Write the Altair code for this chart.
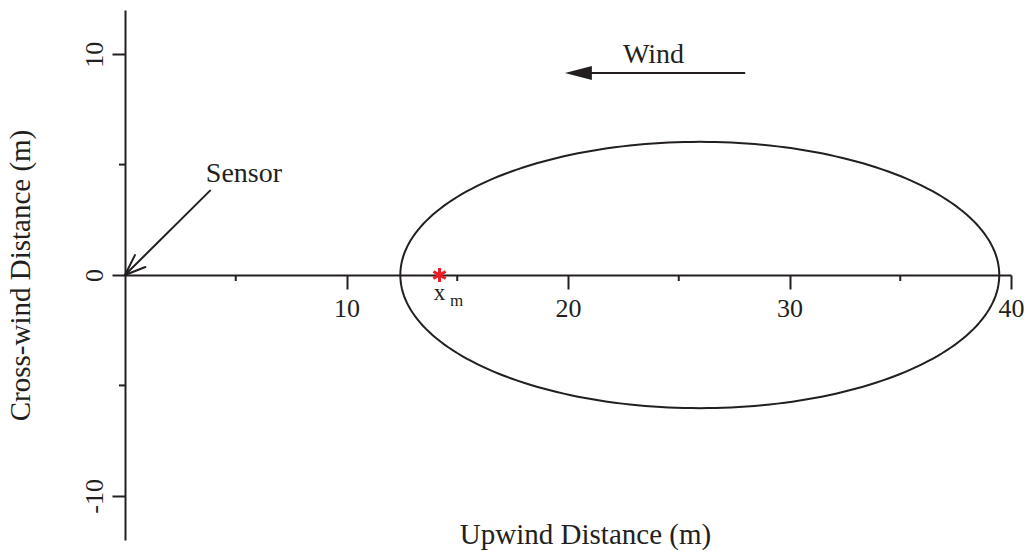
import altair as alt
import pandas as pd
import numpy as np

FONT = "Liberation Serif"
INK = "#231f20"
RED = "#ed1c24"

# ---- axes ----
x_domain = [0, 40]
y_domain = [-12, 12]
x_major = [10, 20, 30, 40]
x_minor = [5, 15, 25, 35]
y_major = [-10, 0, 10]
y_minor = [-5, 5]
x_title = "Upwind Distance (m)"
y_title = "Cross-wind Distance (m)"

# ---- footprint ellipse ----
ellipse_cx = 25.95
ellipse_cy = 0.0
ellipse_a = 13.52
ellipse_b = 6.03

# ---- peak location x_m ----
xm_x = [14.2]
xm_y = [0.0]

# ---- Sensor arrow (shaft + two open head arms) ----
sensor_x = [3.84, 0.0, 0.0]
sensor_y = [3.82, 0.0, 0.0]
sensor_x2 = [0.0, 0.45, 0.92]
sensor_y2 = [0.0, 0.90, 0.36]
sensor_label = ["Sensor"]
sensor_label_x = [5.37]
sensor_label_y = [4.23]

# ---- Wind arrow ----
wind_shaft_x = [20.5]
wind_shaft_x2 = [28.0]
wind_shaft_y = [9.15]
wind_tip_x = [19.86]
wind_label = ["Wind"]
wind_label_x = [23.86]
wind_label_y = [9.59]

W, H = 886, 530

xs = alt.Scale(domain=x_domain, nice=False, zero=False)
ys = alt.Scale(domain=y_domain, nice=False, zero=False)

x_axis = alt.Axis(
    values=x_major, tickSize=14, labelPadding=6, offset=-265,
    domainWidth=2, tickWidth=2, domainColor=INK, tickColor=INK, grid=False,
    labelFont=FONT, labelFontSize=26, labelColor=INK, labelFlush=False,
    labelOverlap=False,
    title=x_title, titleX=460, titleY=268, titleAlign="center",
    titleBaseline="alphabetic", titleFont=FONT, titleFontSize=29,
    titleFontWeight="normal", titleColor=INK,
)
y_axis = alt.Axis(
    values=y_major, tickSize=13, labelPadding=10, labelAngle=270,
    labelAlign="center", labelBaseline="alphabetic",
    labelExpr="replace(datum.label, '\u2212', '-')",
    domainWidth=2, tickWidth=2, domainColor=INK, tickColor=INK, grid=False,
    labelFont=FONT, labelFontSize=26, labelColor=INK, labelFlush=False,
    labelOverlap=False,
    title=y_title, titleX=-96, titleY=265, titleAngle=270, titleAlign="center",
    titleBaseline="alphabetic", titleFont=FONT, titleFontSize=29,
    titleFontWeight="normal", titleColor=INK,
)


def X(f="x"):
    return alt.X(f"{f}:Q", scale=xs, axis=x_axis)


def Y(f="y"):
    return alt.Y(f"{f}:Q", scale=ys, axis=y_axis)


# ellipse outline from its parameters
t = np.linspace(0, 2 * np.pi, 241)
ell = pd.DataFrame({
    "x": ellipse_cx + ellipse_a * np.cos(t),
    "y": ellipse_cy + ellipse_b * np.sin(t),
    "o": np.arange(len(t)),
})
ellipse = alt.Chart(ell).mark_line(color=INK, strokeWidth=2).encode(
    x=X(), y=Y(), order="o:Q"
)

# minor ticks
xmin_df = pd.DataFrame({"x": x_minor, "y": [0.0] * len(x_minor), "y2": [0.0] * len(x_minor)})
xminor = alt.Chart(xmin_df).mark_rule(color=INK, strokeWidth=2, y2Offset=6).encode(
    x=X(), y=Y(), y2="y2:Q"
)
ymin_df = pd.DataFrame({"y": y_minor, "x": [0.0] * len(y_minor), "x2": [0.0] * len(y_minor)})
yminor = alt.Chart(ymin_df).mark_rule(color=INK, strokeWidth=2, x2Offset=-6).encode(
    x=X(), x2="x2:Q", y=Y()
)

# sensor arrow
s_df = pd.DataFrame({"x": sensor_x, "y": sensor_y, "x2": sensor_x2, "y2": sensor_y2})
sensor_arrow = alt.Chart(s_df).mark_rule(color=INK, strokeWidth=2, strokeCap="round").encode(
    x=X(), y=Y(), x2="x2:Q", y2="y2:Q"
)
s_lab = pd.DataFrame({"x": sensor_label_x, "y": sensor_label_y, "t": sensor_label})
sensor_text = alt.Chart(s_lab).mark_text(
    font=FONT, fontSize=28, color=INK, align="center", baseline="alphabetic"
).encode(x=X(), y=Y(), text="t:N")

# wind arrow
w_df = pd.DataFrame({"x": wind_shaft_x, "x2": wind_shaft_x2, "y": wind_shaft_y})
wind_shaft = alt.Chart(w_df).mark_rule(color=INK, strokeWidth=2).encode(
    x=X(), x2="x2:Q", y=Y()
)
wt_df = pd.DataFrame({"x": wind_tip_x, "y": wind_shaft_y})
wind_head = alt.Chart(wt_df).mark_point(
    shape="M0,0L2,-0.52L2,0.52Z", size=729, filled=True, color=INK, opacity=1,
    strokeWidth=0,
).encode(x=X(), y=Y())
w_lab = pd.DataFrame({"x": wind_label_x, "y": wind_label_y, "t": wind_label})
wind_text = alt.Chart(w_lab).mark_text(
    font=FONT, fontSize=28, color=INK, align="center", baseline="alphabetic"
).encode(x=X(), y=Y(), text="t:N")

# x_m star and label
xm_df = pd.DataFrame({"x": xm_x, "y": xm_y, "a": ["x"], "b": ["m"]})
star = alt.Chart(xm_df).mark_point(
    shape="M0,-1L0,1M-0.87,-0.5L0.87,0.5M-0.87,0.5L0.87,-0.5",
    size=196, filled=False, color=RED, strokeWidth=3, opacity=1,
).encode(x=X(), y=Y())
xm_text = alt.Chart(xm_df).mark_text(
    font=FONT, fontSize=23, color=INK, align="center", baseline="alphabetic", dy=25
).encode(x=X(), y=Y(), text="a:N")
xm_sub = alt.Chart(xm_df).mark_text(
    font=FONT, fontSize=17, color=INK, align="center", baseline="alphabetic", dx=17, dy=31
).encode(x=X(), y=Y(), text="b:N")

chart = alt.layer(
    ellipse, xminor, yminor, sensor_arrow, sensor_text,
    wind_shaft, wind_head, wind_text, star, xm_text, xm_sub,
).properties(
    width=W, height=H,
    autosize=alt.AutoSizeParams(type="none"),
    padding={"left": 125, "top": 10, "right": 20, "bottom": 11},
    background="white",
).configure_view(stroke=None)

chart.save("out.html", embed_options={"renderer": "svg", "actions": False})
